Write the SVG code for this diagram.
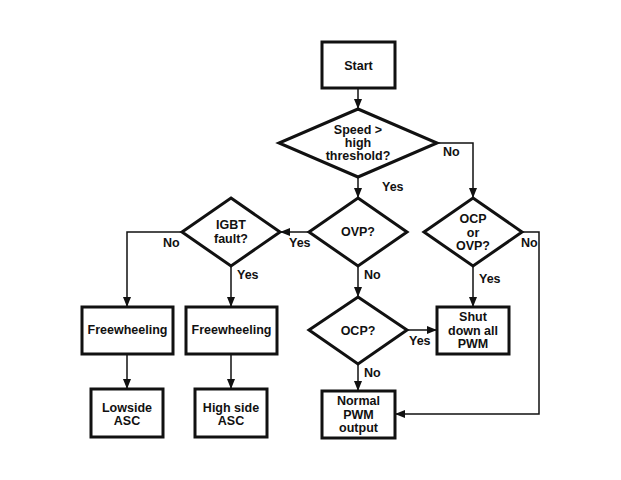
<svg xmlns="http://www.w3.org/2000/svg" width="621" height="480" viewBox="0 0 621 480">
<defs>
<marker id="arr" markerWidth="10" markerHeight="8" refX="9" refY="4" orient="auto" markerUnits="userSpaceOnUse">
<path d="M0,0 L10,4 L0,8 z" fill="#111"/>
</marker>
</defs>
<style>
.box{fill:#fff;stroke:#111;stroke-width:3}
.dia{fill:#fff;stroke:#111;stroke-width:3;stroke-linejoin:miter}
.t{font-family:"Liberation Sans",Arial,sans-serif;font-weight:bold;font-size:12.5px;fill:#111;text-anchor:middle}
.l{font-family:"Liberation Sans",Arial,sans-serif;font-weight:bold;font-size:12.5px;fill:#111}
.c{fill:none;stroke:#111;stroke-width:1.5;marker-end:url(#arr)}
</style>
<rect width="621" height="480" fill="#fff"/>
<g id="connectors">
<path class="c" d="M358,88 V108"/>
<path class="c" d="M358,177 V197"/>
<path class="c" d="M437,143 H473 V197"/>
<path class="c" d="M309,232 H281"/>
<path class="c" d="M358,266 V296"/>
<path class="c" d="M182,232 H127 V306"/>
<path class="c" d="M231,266 V306"/>
<path class="c" d="M127,354 V388"/>
<path class="c" d="M231,354 V388"/>
<path class="c" d="M473,266 V306"/>
<path class="c" d="M522,232 H539 V414 H396"/>
<path class="c" d="M407,330 H436"/>
<path class="c" d="M358,364 V390"/>
<text class="l" x="382" y="191">Yes</text>
<text class="l" x="443" y="156">No</text>
<text class="l" x="289" y="247">Yes</text>
<text class="l" x="163" y="247">No</text>
<text class="l" x="364" y="279">No</text>
<text class="l" x="237" y="279">Yes</text>
<text class="l" x="521" y="247">No</text>
<text class="l" x="479" y="283">Yes</text>
<text class="l" x="409" y="345">Yes</text>
<text class="l" x="364" y="377">No</text>
</g>
<g id="start">
<rect class="box" x="322" y="42" width="73" height="46"/>
<text class="t" x="358.5" y="70">Start</text>
</g>
<g id="speed">
<polygon class="dia" points="358,109 437,143 358,177 279,143"/>
<text class="t" x="358" y="134">Speed &gt;</text>
<text class="t" x="358" y="147">high</text>
<text class="t" x="358" y="160">threshold?</text>
</g>
<g id="ovp">
<polygon class="dia" points="358,198 407,232 358,266 309,232"/>
<text class="t" x="358" y="236">OVP?</text>
</g>
<g id="igbt">
<polygon class="dia" points="231,198 280,232 231,266 182,232"/>
<text class="t" x="231" y="228.5">IGBT</text>
<text class="t" x="231" y="242.5">fault?</text>
</g>
<g id="ocpovp">
<polygon class="dia" points="473,198 522,232 473,266 424,232"/>
<text class="t" x="473" y="222.5">OCP</text>
<text class="t" x="473" y="236.5">or</text>
<text class="t" x="473" y="249.5">OVP?</text>
</g>
<g id="ocp">
<polygon class="dia" points="358,297 407,330 358,364 309,330"/>
<text class="t" x="358" y="334.5">OCP?</text>
</g>
<g id="shutdown">
<rect class="box" x="437" y="307" width="72" height="47"/>
<text class="t" x="473" y="321">Shut</text>
<text class="t" x="473" y="334.5">down all</text>
<text class="t" x="473" y="347.5">PWM</text>
</g>
<g id="normal">
<rect class="box" x="322" y="391" width="73" height="47"/>
<text class="t" x="358.5" y="405">Normal</text>
<text class="t" x="358.5" y="418.5">PWM</text>
<text class="t" x="358.5" y="431.5">output</text>
</g>
<g id="freewheel1">
<rect class="box" x="82" y="307" width="91" height="47"/>
<text class="t" x="127.5" y="334">Freewheeling</text>
</g>
<g id="freewheel2">
<rect class="box" x="186" y="307" width="91" height="47"/>
<text class="t" x="231.5" y="334">Freewheeling</text>
</g>
<g id="lowside">
<rect class="box" x="91" y="389" width="72" height="48"/>
<text class="t" x="127" y="411.5">Lowside</text>
<text class="t" x="127" y="424.5">ASC</text>
</g>
<g id="highside">
<rect class="box" x="195" y="389" width="72" height="48"/>
<text class="t" x="231" y="411.5">High side</text>
<text class="t" x="231" y="424.5">ASC</text>
</g>
</svg>
